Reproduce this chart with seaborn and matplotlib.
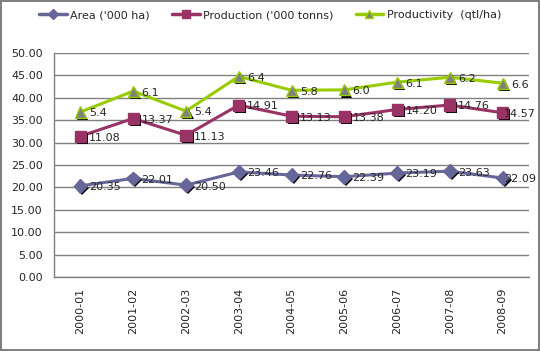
import numpy as np
import pandas as pd
import seaborn as sns
from matplotlib import pyplot as plt
from matplotlib import patheffects as pe

years = ['2000-01', '2001-02', '2002-03', '2003-04', '2004-05',
         '2005-06', '2006-07', '2007-08', '2008-09']
area = [20.35, 22.01, 20.50, 23.46, 22.76, 22.39, 23.19, 23.63, 22.09]
production = [11.08, 13.37, 11.13, 14.91, 13.13, 13.38, 14.20, 14.76, 14.57]
productivity = [5.4, 6.1, 5.4, 6.4, 5.8, 6.0, 6.1, 6.2, 6.6]
label_fmt = ['{:.2f}', '{:.2f}', '{:.1f}']

series_names = ["Area ('000 ha)", "Production ('000 tonns)", "Productivity  (qtl/ha)"]
line_colors = ['#666699', '#993366', '#99CC00']
face_colors = ['#666699', '#993366', '#808080']
markers = ['D', 's', '^']
msizes = [7, 8, 8]

# stacked line chart: each series sits on top of the previous one
raw = [area, production, productivity]
stacked = np.cumsum(np.array(raw), axis=0)

rows = []
for name, vals, tops in zip(series_names, raw, stacked):
    for i, yr in enumerate(years):
        rows.append({'year': yr, 'x': i, 'series': name, 'raw': vals[i], 'value': tops[i]})
df = pd.DataFrame(rows)

sns.set_style('white')
plt.rcParams['font.family'] = ['DejaVu Sans']

fig = plt.figure(figsize=(5.4, 3.51), dpi=100, edgecolor='#808080', linewidth=1.5)
ax = fig.add_axes([54 / 540, 1 - 277 / 351, (529 - 54) / 540, (277 - 53) / 351])

shadow = [pe.SimplePatchShadow(offset=(1.5, -1.5), shadow_rgbFace='black', alpha=1.0), pe.Normal()]

handles = []
for k, name in enumerate(series_names):
    sub = df[df.series == name]
    sns.lineplot(x='x', y='value', data=sub, ax=ax, color=line_colors[k], linewidth=2.2,
                 legend=False, zorder=2)
    ax.plot(sub['x'], sub['value'], linestyle='none', marker=markers[k], markersize=msizes[k],
            markerfacecolor=face_colors[k], markeredgecolor=line_colors[k], markeredgewidth=1,
            path_effects=shadow, zorder=3)
    h, = ax.plot([], [], color=line_colors[k], linewidth=2.5, marker=markers[k],
                 markersize=msizes[k] - 2, markerfacecolor=face_colors[k],
                 markeredgecolor=line_colors[k])
    handles.append(h)
    for _, r in sub.iterrows():
        txt = label_fmt[k].format(r['raw'])
        dx = 6
        # Excel pulls the long labels at the right edge back over the marker
        if r['x'] == len(years) - 1 and len(txt) > 3:
            dx = 1
        ax.annotate(txt, (r['x'], r['value']), xytext=(dx, -1),
                    textcoords='offset points', ha='left', va='center', fontsize=8, zorder=4)

ax.set_xlim(-0.5, len(years) - 0.5)
ax.set_ylim(0, 50)
ax.set_yticks(np.arange(0, 50.1, 5))
ax.set_yticklabels(['{:.2f}'.format(v) for v in np.arange(0, 50.1, 5)], fontsize=8)
ax.set_xticks(range(len(years)))
ax.set_xticklabels(years, rotation=90, fontsize=8)
ax.set_xlabel('')
ax.set_ylabel('')
ax.grid(True, axis='y', color='#808080', linewidth=1)
ax.grid(False, axis='x')
ax.set_axisbelow(True)
for s in ['top', 'right']:
    ax.spines[s].set_visible(False)
for s in ['left', 'bottom']:
    ax.spines[s].set_color('#808080')
    ax.spines[s].set_linewidth(1)
ax.tick_params(axis='both', length=0, pad=8)

fig.legend(handles, series_names, loc='center', bbox_to_anchor=(0.5, 1 - 15 / 351), ncol=3,
           frameon=False, fontsize=8, handlelength=2.5, columnspacing=2.0, handletextpad=0.3)

fig.savefig('out.png', dpi=100)
